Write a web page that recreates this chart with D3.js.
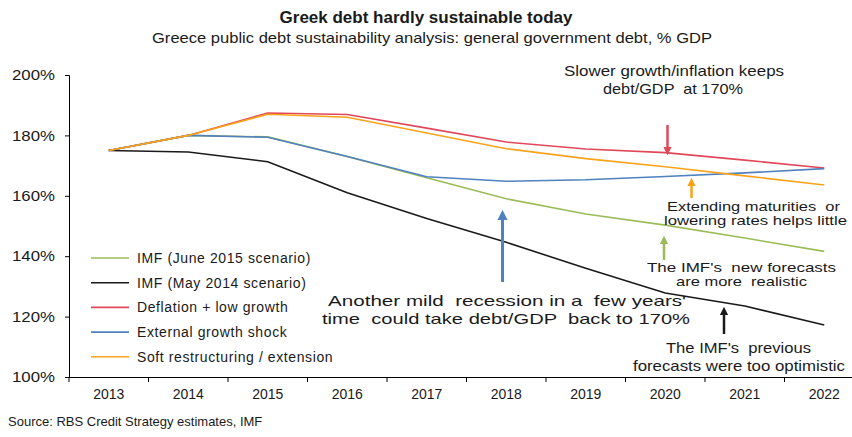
<!DOCTYPE html>
<html>
<head>
<meta charset="utf-8">
<script src="https://d3js.org/d3.v7.min.js"></script>
<style>
  body { margin: 0; background: #fff; }
  text { font-family: "Liberation Sans", Arial, sans-serif; fill: #1a1a1a; }
</style>
</head>
<body>
<div id="chart"></div>
<script>
// data
var years = ["2013","2014","2015","2016","2017","2018","2019","2020","2021","2022"];
var imfJune2015 = [175, 180, 179.5, 173, 166, 159, 154, 150.3, 146, 141.6];
var imfMay2014  = [175, 174.5, 171.3, 161, 152.5, 144.6, 136, 127.8, 123.5, 117.2];
var deflation   = [175, 180, 187.4, 186.9, 182.4, 177.8, 175.5, 174.3, 171.8, 169.2];
var extShock    = [175, 180, 179.4, 173, 166.3, 164.8, 165.3, 166.4, 167.6, 169.0];
var softRestr   = [175, 180, 187, 186, 180.8, 175.6, 172.3, 169.6, 166.6, 163.6];
var seriesNames = ["IMF (June 2015 scenario)", "IMF (May 2014 scenario)", "Deflation + low growth", "External growth shock", "Soft restructuring / extension"];
var seriesColors = ["#9bbb59", "#1a1a1a", "#e0485a", "#4f81bd", "#f9a31b"];
var yTicks = [100, 120, 140, 160, 180, 200];

var W = 852, H = 437;

var svg = d3.select("#chart").append("svg")
    .attr("width", W).attr("height", H);

var x = d3.scaleBand().domain(years).range([69, 864]);
var y = d3.scaleLinear().domain([100, 200]).range([377, 75]);

// title
svg.append("text").attr("x", 426).attr("y", 23).attr("text-anchor", "middle")
  .style("font-weight", "bold").style("font-size", "17px").text("Greek debt hardly sustainable today");
svg.append("text").attr("x", 152).attr("y", 43)
  .attr("textLength", 560).attr("lengthAdjust", "spacingAndGlyphs")
  .style("font-size", "14.5px").text("Greece public debt sustainability analysis: general government debt, % GDP");

// axes
var yAxis = svg.append("g").attr("transform", "translate(69,0)")
  .call(d3.axisLeft(y).tickValues(yTicks).tickSize(4).tickPadding(10).tickFormat(function(d){ return d + "%"; }));
yAxis.selectAll("text").style("font-size", "14.5px")
  .attr("textLength", 43).attr("lengthAdjust", "spacingAndGlyphs");

var xAxis = svg.append("g").attr("transform", "translate(0,377)")
  .call(d3.axisBottom(x).tickSize(0).tickPadding(12));
xAxis.selectAll("text").style("font-size", "14px");
// band boundary ticks
xAxis.selectAll("line.bt").data(years.concat(["end"])).enter().append("line")
  .attr("class", "bt")
  .attr("x1", function(d, i){ return 69 + i * x.step(); })
  .attr("x2", function(d, i){ return 69 + i * x.step(); })
  .attr("y1", 0).attr("y2", 5).attr("stroke", "#000");
svg.selectAll(".domain").attr("stroke", "#000");

// lines
var allSeries = [imfJune2015, imfMay2014, deflation, extShock, softRestr];
var line = d3.line()
  .x(function(d, i){ return x(years[i]) + x.bandwidth() / 2; })
  .y(function(d){ return y(d); });

svg.append("g").selectAll("path").data(allSeries).enter().append("path")
  .attr("d", line)
  .attr("fill", "none")
  .attr("stroke", function(d, i){ return seriesColors[i]; })
  .attr("stroke-width", 1.6);

// legend
var legend = svg.append("g");
seriesNames.forEach(function(name, i){
  var ly = 258 + i * 24.7;
  legend.append("line").attr("x1", 91).attr("x2", 129).attr("y1", ly).attr("y2", ly)
    .attr("stroke", seriesColors[i]).attr("stroke-width", 1.6);
  legend.append("text").attr("x", 137).attr("y", ly + 5)
    .style("font-size", "14px").style("letter-spacing", "0.6px").text(name);
});

// arrows
var defs = svg.append("defs");
seriesColors.forEach(function(c, i){
  defs.append("marker").attr("id", "ah" + i)
    .attr("viewBox", "0 0 10 10").attr("refX", 5).attr("refY", 5)
    .attr("markerWidth", 3.4).attr("markerHeight", 3.6)
    .attr("orient", "auto")
    .append("path").attr("d", "M0,0 L10,5 L0,10 z").attr("fill", c);
});
var arrows = [
  {x: 667.5, y1: 125, y2: 155, c: 2, w: 2.5},
  {x: 691.5, y1: 198, y2: 178, c: 4, w: 2.5},
  {x: 502.5, y1: 282, y2: 211, c: 3, w: 3},
  {x: 664, y1: 260, y2: 236, c: 0, w: 2.5},
  {x: 724, y1: 334, y2: 307, c: 1, w: 2.5}
];
svg.append("g").selectAll("line").data(arrows).enter().append("line")
  .attr("x1", function(d){ return d.x; }).attr("x2", function(d){ return d.x; })
  .attr("y1", function(d){ return d.y1; }).attr("y2", function(d){ return d.y2 + (d.y2 > d.y1 ? -4 : 4); })
  .attr("stroke", function(d){ return seriesColors[d.c]; })
  .attr("stroke-width", function(d){ return d.w; })
  .attr("marker-end", function(d){ return "url(#ah" + d.c + ")"; });

// annotations (left edge, baseline, width, font size)
var notes = [
  {x: 564, y: 76, w: 220, f: 15, t: "Slower growth/inflation keeps"},
  {x: 603, y: 94, w: 140, f: 15, t: "debt/GDP  at 170%"},
  {x: 667, y: 211, w: 173, f: 13.5, t: "Extending maturities  or"},
  {x: 664, y: 225, w: 183, f: 13.5, t: "lowering rates helps little"},
  {x: 647, y: 272, w: 189, f: 13.5, t: "The IMF's  new forecasts"},
  {x: 676, y: 286, w: 131, f: 13.5, t: "are more  realistic"},
  {x: 328, y: 306, w: 358, f: 15, t: "Another mild  recession in a  few years'"},
  {x: 322, y: 324, w: 368, f: 15, t: "time  could take debt/GDP  back to 170%"},
  {x: 666, y: 353, w: 145, f: 15, t: "The IMF's  previous"},
  {x: 633, y: 371, w: 212, f: 15, t: "forecasts were too optimistic"}
];
svg.append("g").selectAll("text").data(notes).enter().append("text")
  .attr("x", function(d){ return d.x; }).attr("y", function(d){ return d.y; })
  .attr("textLength", function(d){ return d.w; })
  .attr("lengthAdjust", "spacingAndGlyphs")
  .style("font-size", function(d){ return d.f + "px"; })
  .style("white-space", "pre").attr("xml:space", "preserve")
  .text(function(d){ return d.t; });

// source
svg.append("text").attr("x", 8).attr("y", 426).style("font-size", "13px")
  .text("Source: RBS Credit Strategy estimates, IMF");
</script>
</body>
</html>
